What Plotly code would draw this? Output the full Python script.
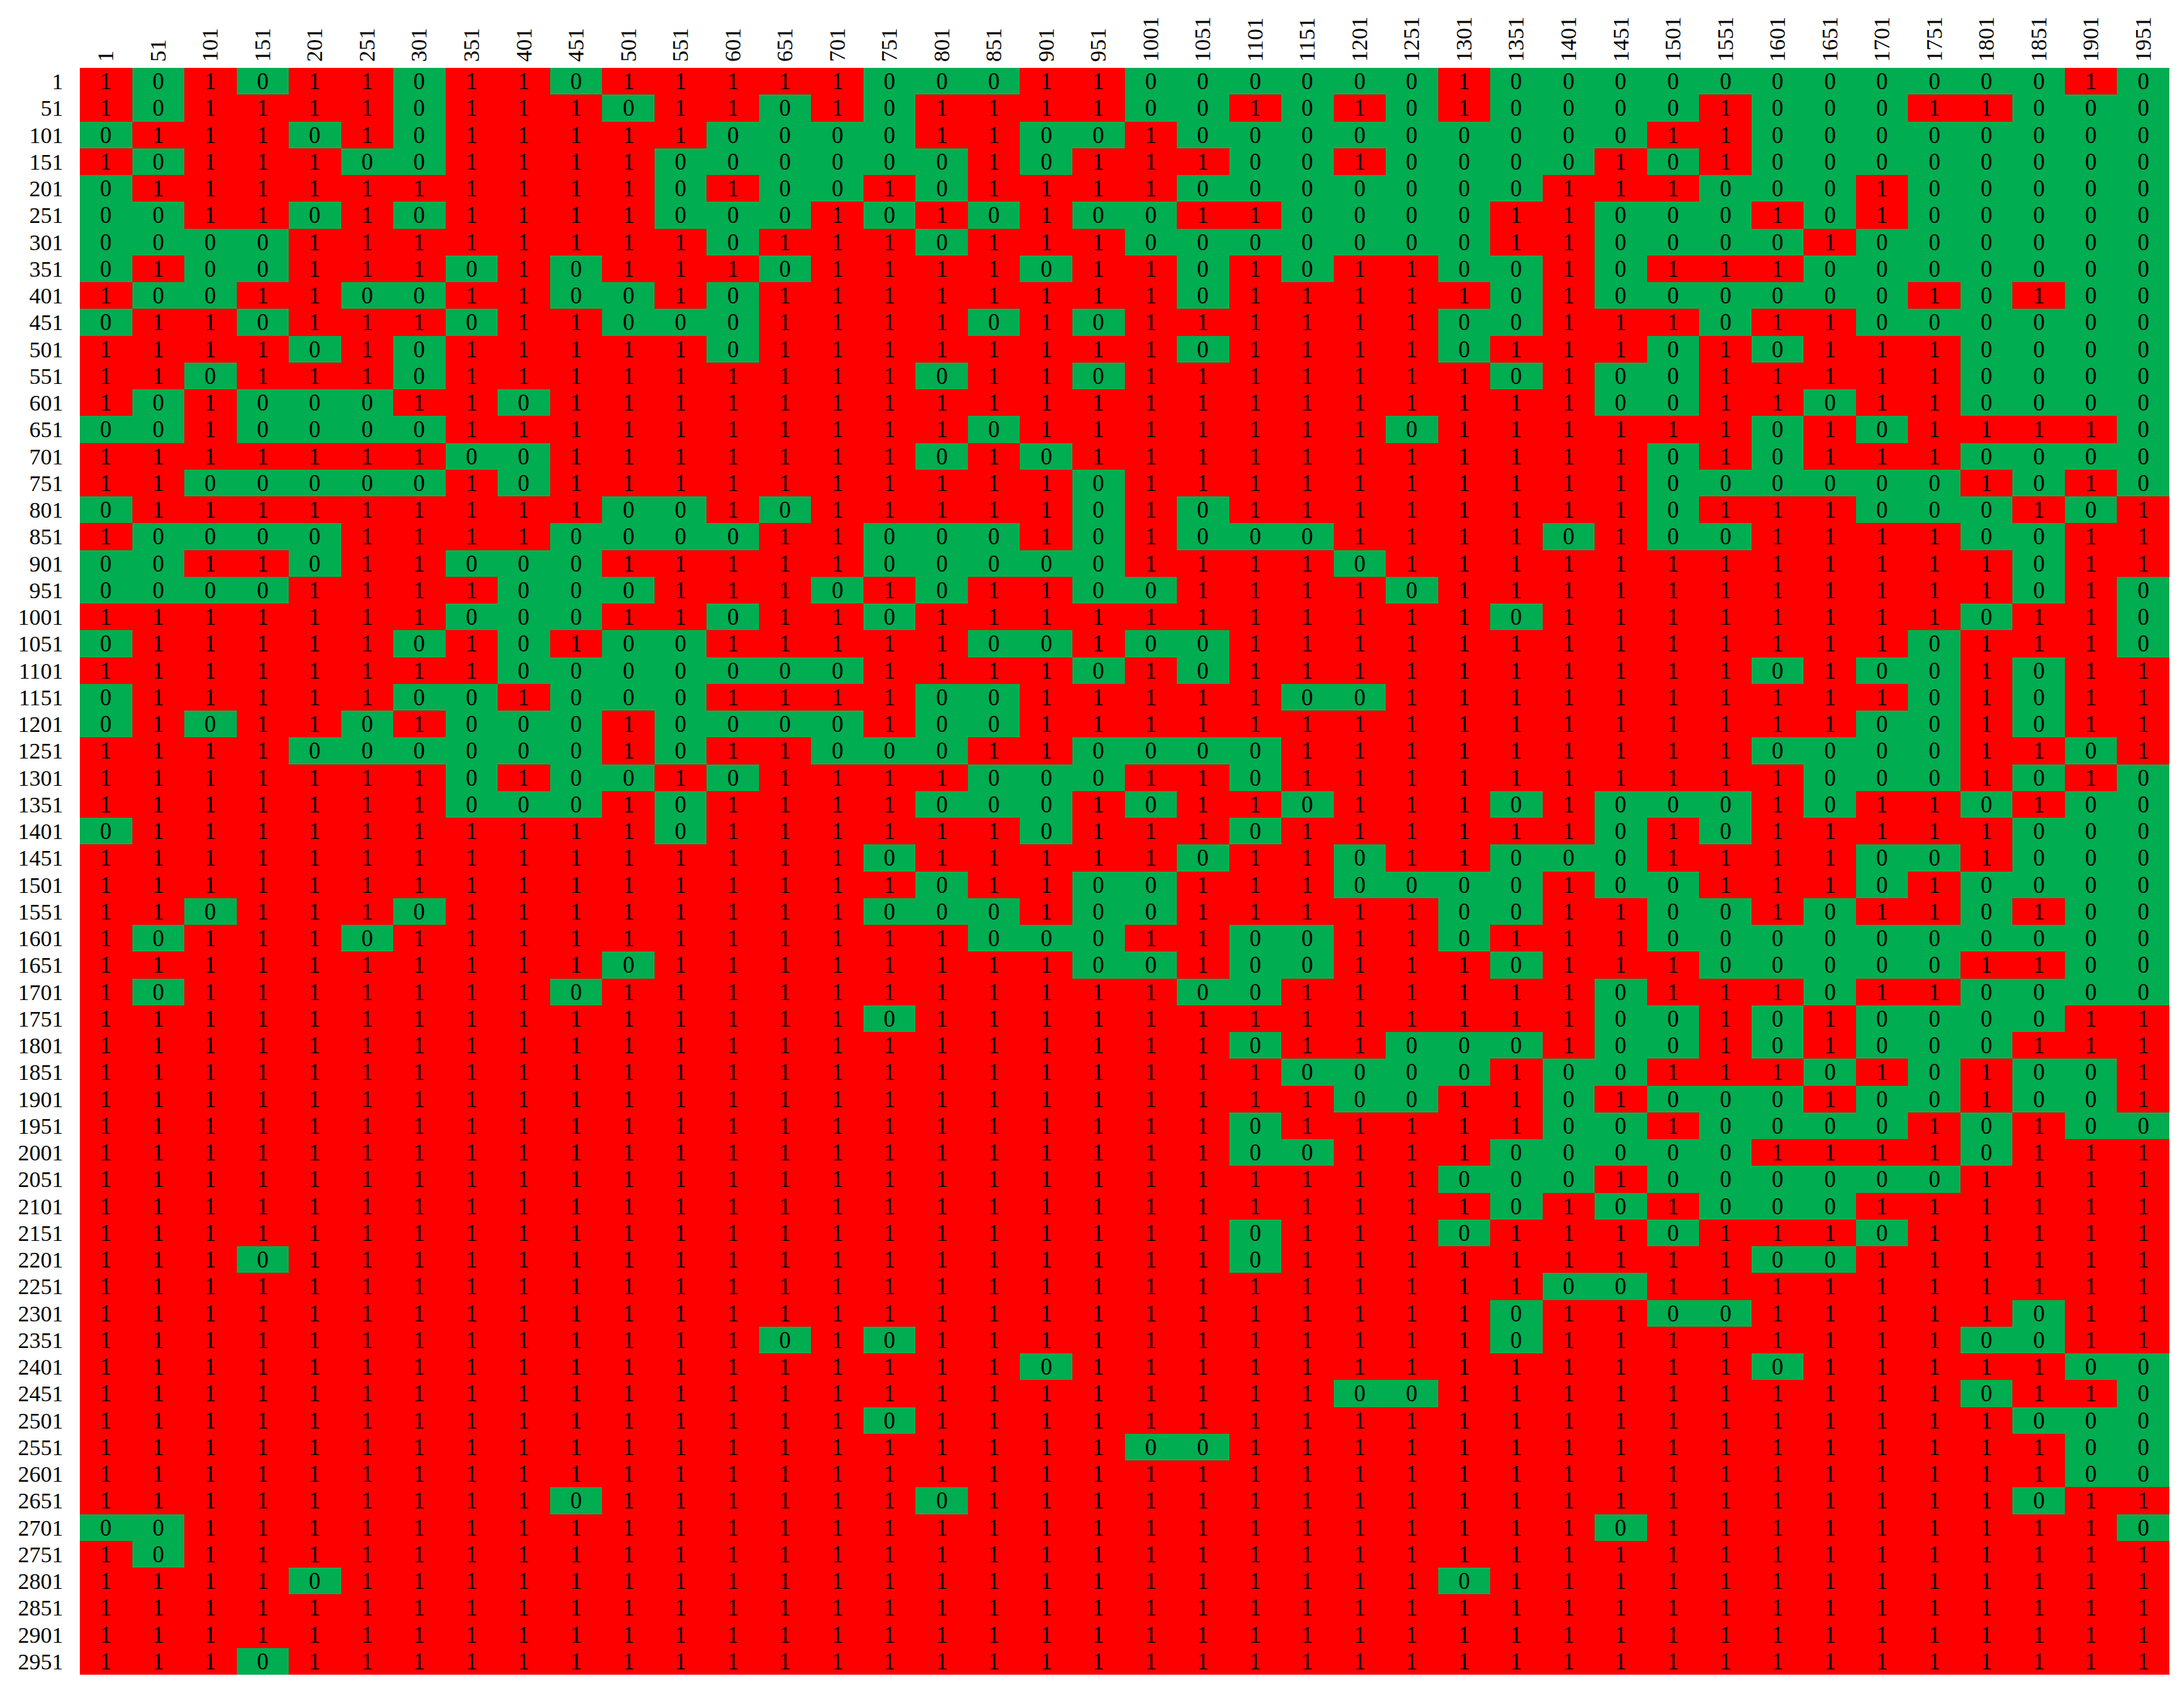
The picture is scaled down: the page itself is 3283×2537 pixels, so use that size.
import plotly.graph_objects as go

row_labels = [str(1 + 50 * i) for i in range(60)]
col_labels = [str(1 + 50 * j) for j in range(40)]

# cols 1..651 | 701..1351 | 1401..1951
block_left = [
    "10101101101111", "10111101110110", "01110101111100", "10111001111000",
    "01111111111010", "00110101111000", "00001111111101", "01001110101110",
    "10011001100101", "01101110110001", "11110101111101", "11011101111111",
    "10100011011111", "00100001111111", "11111110011111",
    "11000001011111", "01111111110010", "10000111100001", "00110110001111",
    "00001111000111", "11111110001101", "01111101010011", "11111111000000",
    "01111100100011", "01011010001000", "11110000001011", "11111110100101",
    "11111110001011", "01111111111011", "11111111111111",
    "11111111111111", "11011101111111", "10111011111111", "11111111110111",
    "10111111101111", "11111111111111", "11111111111111", "11111111111111",
    "11111111111111", "11111111111111", "11111111111111", "11111111111111",
    "11111111111111", "11111111111111", "11101111111111",
    "11111111111111", "11111111111111", "11111111111110", "11111111111111",
    "11111111111111", "11111111111111", "11111111111111", "11111111111111",
    "11111111101111", "00111111111111", "10111111111111", "11110111111111",
    "11111111111111", "11111111111111", "11101111111111",
]
block_mid = [
    "10001100000010", "10111100101010", "00110010000000", "00010111001000",
    "01011110000000", "10101001100001", "11011100000001", "11110110101100",
    "11111110111110", "11101011111100", "11111110111101", "11011011111110",
    "11111111111111", "11101111111011", "11010111111111",
    "11111011111111", "11111010111111", "10001010001111", "10000011110111",
    "01011001111011", "10111111111110", "11100100111111", "01111010111111",
    "11001111100111", "01001111111111", "00011000011111", "11100011011111",
    "11000101101110", "11110111011111", "10111110110110",
    "11011001110000", "10001001111100", "11100011001101", "11111001001110",
    "11111110011111", "10111111111111", "11111111011000", "11111111100001",
    "11111111110011", "11111111011111", "11111111001110", "11111111111100",
    "11111111111110", "11111111011101", "11111111011111",
    "11111111111111", "11111111111110", "10111111111110", "11110111111111",
    "11111111110011", "10111111111111", "11111100111111", "11111111111111",
    "11011111111111", "11111111111111", "11111111111111", "11111111111101",
    "11111111111111", "11111111111111", "11111111111111",
]
block_right = [
    "000000000010", "000100011000", "001100000000", "010100000000",
    "111000100000", "100010100000", "100001000000", "101110000000",
    "100000010100", "111011000000", "110101110000", "100111110000",
    "100110110000", "111101011110", "110101110000",
    "110000001010", "110111000101", "010011110011", "111111111011",
    "111111111010", "111111110110", "111111101110", "111101001011",
    "111111101011", "111111001011", "111100001101", "111110001010",
    "100010110100", "101011111000", "001111001000",
    "100111010000", "110010110100", "110000000000", "111000001100",
    "101110110000", "100101000011", "100101000111", "001110101001",
    "010001001001", "001000010100", "000011110111", "010000001111",
    "101000111111", "110111011111", "111100111111",
    "001111111111", "110011111011", "111111110011", "111101111100",
    "111111110110", "111111111000", "111111111100", "111111111100",
    "111111111011", "101111111110", "111111111111", "111111111111",
    "111111111111", "111111111111", "111111111111",
]

z = [[int(c) for c in (a + b + c_)] for a, b, c_ in zip(block_left, block_mid, block_right)]
text = [[str(v) for v in row] for row in z]

GREEN = "#00AD50"
RED = "#FF0000"

fig = go.Figure(
    go.Heatmap(
        z=z,
        x=col_labels,
        y=row_labels,
        text=text,
        texttemplate="%{text}",
        textfont=dict(family="Liberation Serif", size=35, color="black"),
        colorscale=[[0, GREEN], [0.5, GREEN], [0.5, RED], [1, RED]],
        zmin=0,
        zmax=1,
        showscale=False,
        xgap=0,
        ygap=0,
        hoverongaps=False,
    )
)

fig.update_layout(
    width=3283,
    height=2537,
    margin=dict(l=112, r=30, t=94, b=28),
    paper_bgcolor="white",
    plot_bgcolor="white",
    font=dict(family="Liberation Serif", color="black"),
)
fig.update_xaxes(
    type="category",
    side="top",
    tickmode="array",
    tickvals=col_labels,
    ticktext=col_labels,
    tickangle=-90,
    tickfont=dict(family="Liberation Serif", size=34, color="black"),
    showgrid=False,
    zeroline=False,
    ticks="",
    ticklabelstandoff=8,
    automargin=False,
)
fig.update_yaxes(
    type="category",
    autorange="reversed",
    tickmode="array",
    tickvals=row_labels,
    ticktext=row_labels,
    tickfont=dict(family="Liberation Serif", size=34, color="black"),
    showgrid=False,
    zeroline=False,
    ticks="",
    ticklabelstandoff=24,
    automargin=False,
)

fig.write_html("out.html")
